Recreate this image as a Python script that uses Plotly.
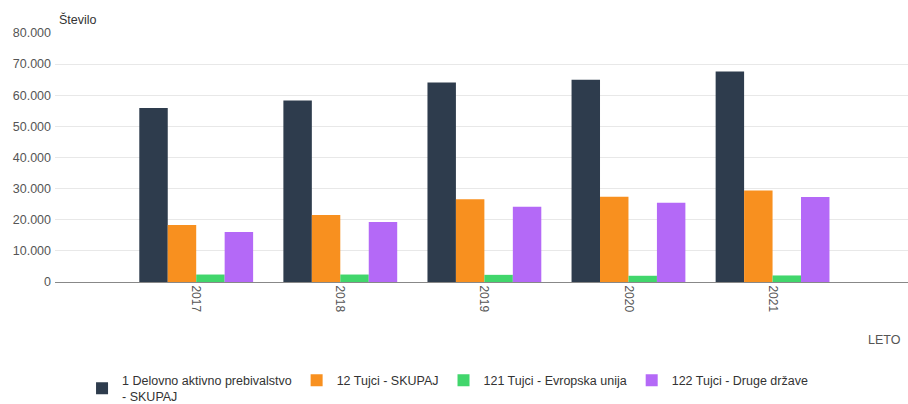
import plotly.graph_objects as go

years = ["2017", "2018", "2019", "2020", "2021"]
series_names = [
    "1 Delovno aktivno prebivalstvo<br>- SKUPAJ",
    "12 Tujci - SKUPAJ",
    "121 Tujci - Evropska unija",
    "122 Tujci - Druge države",
]
total = [55900, 58300, 64100, 65000, 67600]
tujci = [18300, 21500, 26600, 27400, 29400]
eu = [2400, 2400, 2300, 2000, 2100]
druge = [16100, 19300, 24200, 25500, 27300]
colors = ["#2e3c4d", "#f8901f", "#41d66c", "#b469f7"]

fig = go.Figure()
for name, vals, col in zip(series_names, [total, tujci, eu, druge], colors):
    fig.add_trace(go.Bar(x=years, y=vals, name=name, marker=dict(color=col, line=dict(width=0))))

FS = 12.5
fig.update_layout(
    width=908, height=404,
    margin=dict(l=55, r=0, t=33, b=122, autoexpand=False),
    paper_bgcolor="white", plot_bgcolor="white",
    barmode="group", bargap=0.21, bargroupgap=0,
    separators=",.",
    font=dict(family="Liberation Sans, Arial, sans-serif", size=FS, color="#555"),
    xaxis=dict(type="category", range=[-0.98, 4.94], tickangle=90,
               showline=True, linecolor="#888", linewidth=1, showgrid=False,
               tickfont=dict(size=12, color="#555"), ticks="", automargin=False),
    yaxis=dict(range=[0, 80000], dtick=10000, tickformat=",d",
               gridcolor="#e8e8e8", zeroline=False, showline=False,
               tickfont=dict(size=FS, color="#555"), ticks="", ticklabelstandoff=3,
               automargin=False),
    legend=dict(orientation="h", x=0.0317, xanchor="left",
                yref="container", y=0.095, yanchor="top",
                font=dict(size=FS, color="#333"), traceorder="normal"),
    annotations=[
        dict(text="Število", xref="paper", yref="paper", x=0, y=1, xanchor="left",
             yanchor="bottom", xshift=2, yshift=4, showarrow=False,
             font=dict(size=FS, color="#333")),
        dict(text="LETO", xref="paper", yref="paper", x=0.951, y=-0.233,
             xanchor="left", yanchor="middle", showarrow=False,
             font=dict(size=FS, color="#555")),
    ],
)
fig.write_html("out.html")
